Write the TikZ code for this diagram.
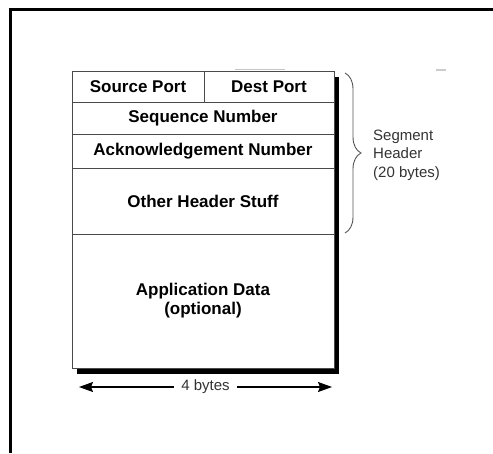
\documentclass[tikz,border=0pt]{standalone}
\usepackage{fontspec}
\setmainfont{Liberation Sans}
\usetikzlibrary{arrows.meta,decorations.pathreplacing}
\definecolor{rule}{HTML}{4A4A4A}
\definecolor{notegray}{HTML}{333333}
\definecolor{bracegray}{HTML}{555555}

\begin{document}
\begin{tikzpicture}[x=1pt,y=-1pt,
  cell/.style={draw=rule, line width=1pt, fill=white, inner sep=0pt,
    font=\fontsize{17}{19}\selectfont\bfseries, text=black},
  note/.style={font=\fontsize{15}{18.5}\selectfont, text=notegray},
  shadow/.style={fill=black, draw=none},
  >={Stealth[length=14pt,width=10pt,inset=2pt]},
]
\useasboundingbox (0,0) rectangle (493,453);

% outer frame
\draw[line width=3.2pt] (10.5,453) -- (10.5,9.5) -- (493,9.5);

% segment fields
\node[cell, minimum width=132, minimum height=31] (src) at (138,86.5) {Source Port};
\node[cell, minimum width=130, minimum height=31] (dst) at (269,86.5) {Dest Port};
\node[cell, minimum width=262, minimum height=32] (seq) at (203,118) {Sequence Number};
\node[cell, minimum width=262, minimum height=34] (ack) at (203,151) {Acknowledgement Number};
\node[cell, minimum width=262, minimum height=66] (oth) at (203,201) {Other Header Stuff};
\node[cell, minimum width=262, minimum height=134, align=center] (app) at (203,301)
  {Application Data\\(optional)};

% drop shadow along the right and bottom edges
\path[shadow] (334.5,77) rectangle (338.5,374);
\path[shadow] (77,368.5) rectangle (338.5,374);

% small marks
\draw[gray!45, line width=1.5pt] (235,69.5) -- (285,69.5);
\draw[gray!40, line width=2pt] (436,70) -- (446,70);

% header brace and label
\coordinate (bt) at (345,73);
\coordinate (bb) at (345,233);
\draw[bracegray, line width=0.9pt, decorate, decoration={brace, amplitude=16pt}] (bt) -- (bb);
\node[note, anchor=west, align=left, inner sep=0pt] (seg) at (373,155)
  {Segment\\Header\\(20 bytes)};

% width dimension
\coordinate (al) at (79,387);
\coordinate (ar) at (332,387);
\draw[line width=1.1pt, <->] (al) -- node[note, fill=white, inner xsep=7pt, inner ysep=1pt] (wd) {4 bytes} (ar);
\end{tikzpicture}
\end{document}
